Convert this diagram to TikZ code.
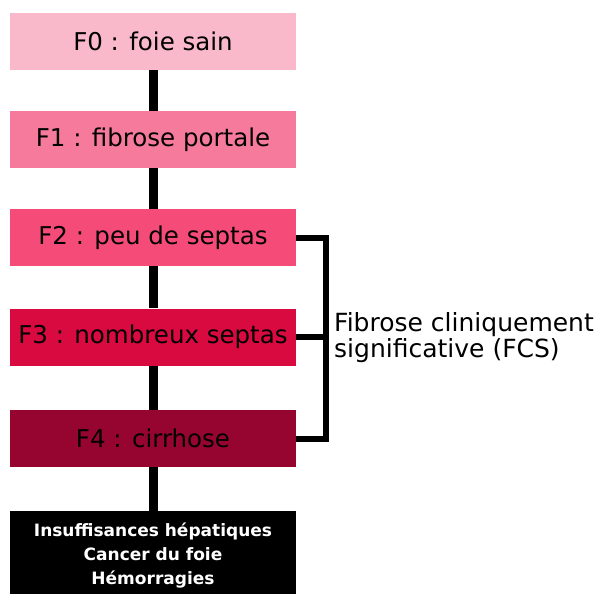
\documentclass[tikz,border=0pt]{standalone}
\usepackage{fontspec}
\setmainfont{DejaVu Sans}
\definecolor{stageA}{RGB}{249,185,203}
\definecolor{stageB}{RGB}{245,122,155}
\definecolor{stageC}{RGB}{245,75,120}
\definecolor{stageD}{RGB}{216,10,64}
\definecolor{stageE}{RGB}{150,5,48}
\begin{document}
\begin{tikzpicture}[x=1pt,y=-1pt,
  stagebox/.style={rectangle,inner sep=0pt,minimum width=286pt,minimum height=57pt,
    font=\fontsize{24.5}{28}\selectfont,text=black},
  link/.style={line width=9pt,black},
  bracketline/.style={line width=6pt,black,line join=miter}]
  \useasboundingbox (0,0) rectangle (600,594);
  % fibrosis stages
  \node[stagebox,fill=stageA] (f0) at (153,41.5) {F0 : foie sain};
  \node[stagebox,fill=stageB] (f1) at (153,139.5) {F1 : fibrose portale};
  \node[stagebox,fill=stageC] (f2) at (153,237.5) {F2 : peu de septas};
  \node[stagebox,fill=stageD] (f3) at (153,337) {F3 : nombreux septas};
  \node[stagebox,fill=stageE] (f4) at (153,438.5) {F4 : cirrhose};
  % complications
  \node[rectangle,fill=black,inner sep=0pt,minimum width=286pt,minimum height=83pt,
    text=white,font=\fontsize{17}{24}\selectfont\bfseries]
    (comp) at (153,552.5)
    {\raisebox{-3.5pt}[\height][\depth]{\parbox{286pt}{\centering Insuffisances hépatiques\\Cancer du foie\\Hémorragies}}};
  % progression links
  \draw[link] (f0.south) -- (f1.north);
  \draw[link] (f1.south) -- (f2.north);
  \draw[link] (f2.south) -- (f3.north);
  \draw[link] (f3.south) -- (f4.north);
  \draw[link] (f4.south) -- (comp.north);
  % bracket grouping F2 to F4
  \coordinate (bt) at ([xshift=30pt]f2.east);
  \coordinate (bb) at ([xshift=30pt]f4.east);
  \draw[bracketline] (f2.east) -- (bt) -- (bb) -- (f4.east);
  \draw[bracketline] (f3.east) -- (bt |- f3.east);
  \node[anchor=west,align=left,inner sep=0pt,font=\fontsize{25}{26}\selectfont]
    (fcs) at (334,338) {Fibrose cliniquement\\significative (FCS)};
\end{tikzpicture}
\end{document}
